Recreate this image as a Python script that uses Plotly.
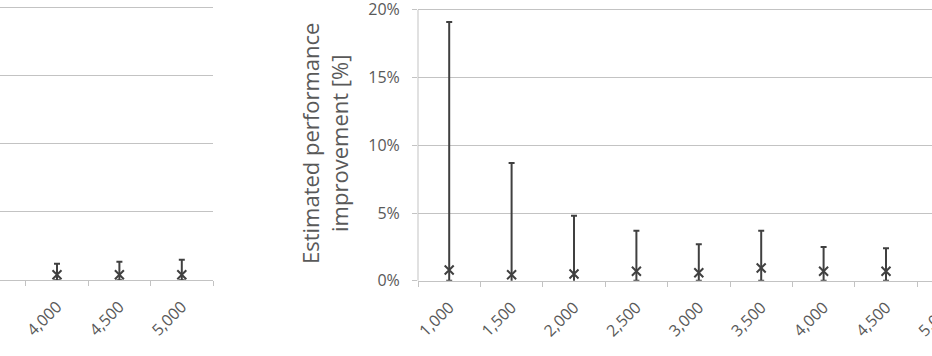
import plotly.graph_objects as go

categories = ["1,000", "1,500", "2,000", "2,500", "3,000", "3,500", "4,000", "4,500", "5,000"]

# Left panel (only the right-most part is visible)
left_x = ["4,000", "4,500", "5,000"]
left_val = [0.4, 0.4, 0.4]
left_upper = [1.2, 1.35, 1.5]
left_lower = [0.0, 0.0, 0.0]

# Right panel (5,000 lies beyond the visible edge)
right_x = ["1,000", "1,500", "2,000", "2,500", "3,000", "3,500", "4,000", "4,500"]
right_val = [0.8, 0.45, 0.5, 0.7, 0.6, 0.95, 0.7, 0.7]
right_upper = [19.1, 8.7, 4.8, 3.7, 2.7, 3.7, 2.5, 2.4]
right_lower = [0.0, -0.15, -0.15, 0.0, 0.0, 0.0, 0.0, 0.0]

y_ticks = [0, 5, 10, 15, 20]
y_labels = ["0%", "5%", "10%", "15%", "20%"]

W, H = 990, 356
CAT = 62.4
INK = "#404040"
TXT = "#595959"
GRID = "#c3c3c3"
FONT = "Open Sans"
YMAX = 20.3

def errs(v, up, lo):
    return ([u - a for u, a in zip(up, v)], [a - l for a, l in zip(v, lo)])

fig = go.Figure()

for xs, v, up, lo, xa, ya in [
    (left_x, left_val, left_upper, left_lower, "x", "y"),
    (right_x, right_val, right_upper, right_lower, "x2", "y2"),
]:
    e_up, e_lo = errs(v, up, lo)
    fig.add_trace(go.Scatter(
        x=xs, y=v, mode="markers", xaxis=xa, yaxis=ya,
        marker=dict(symbol="x-thin", size=9, color=INK, line=dict(width=2, color=INK)),
        error_y=dict(type="data", symmetric=False, array=e_up, arrayminus=e_lo,
                     color=INK, thickness=2, width=3),
        showlegend=False, cliponaxis=False,
    ))

left_right_px = 213
r_left_px, r_right_px = 418, 418 + 9 * CAT

xcommon = dict(type="category", categoryorder="array", categoryarray=categories,
               showgrid=False, showline=True, linecolor=GRID, linewidth=1,
               ticks="outside", ticklen=5, tickcolor=GRID, tickson="boundaries",
               tickangle=-45, ticklabelstandoff=10, automargin=False,
               tickfont=dict(family=FONT, size=16, color=TXT))

ycommon = dict(range=[0, YMAX], tickmode="array", tickvals=y_ticks, ticktext=y_labels,
               showgrid=True, gridcolor=GRID, gridwidth=1, zeroline=False,
               automargin=False, ticklabeloverflow="allow",
               tickfont=dict(family=FONT, size=16, color=TXT))

def dom(y0px, y20px):
    top_px = y0px - (y0px - y20px) * YMAX / 20
    return [(H - y0px) / H, (H - top_px) / H]

fig.update_layout(
    width=W, height=H,
    margin=dict(l=0, r=0, t=0, b=0, autoexpand=False),
    paper_bgcolor="white", plot_bgcolor="white",
    xaxis=dict(xcommon, domain=[0, left_right_px / W],
               range=[8.5 - left_right_px / CAT, 8.5], anchor="y"),
    yaxis=dict(ycommon, domain=dom(280.2, 7.2), anchor="x",
               showline=False, showticklabels=False, ticks=""),
    xaxis2=dict(xcommon, domain=[r_left_px / W, min(r_right_px / W, 1)],
                range=[-0.5, 8.5], anchor="y2"),
    yaxis2=dict(ycommon, domain=dom(280.8, 9.8), anchor="x2",
                showline=False, ticks="outside", ticklen=5,
                tickcolor=GRID, ticklabelstandoff=9,
                title=dict(text="Estimated performance<br>improvement [%]",
                           font=dict(family=FONT, size=22, color=TXT), standoff=13)),
    shapes=[dict(type="line", xref="x2 domain", yref="y2", x0=0, x1=0, y0=0, y1=20,
                 line=dict(color=GRID, width=1))],
    font=dict(family=FONT, color=TXT),
)

fig.write_html("out.html",
               post_script="document.documentElement.style.overflow='hidden';document.body.style.overflow='hidden';document.body.style.margin='0';")
